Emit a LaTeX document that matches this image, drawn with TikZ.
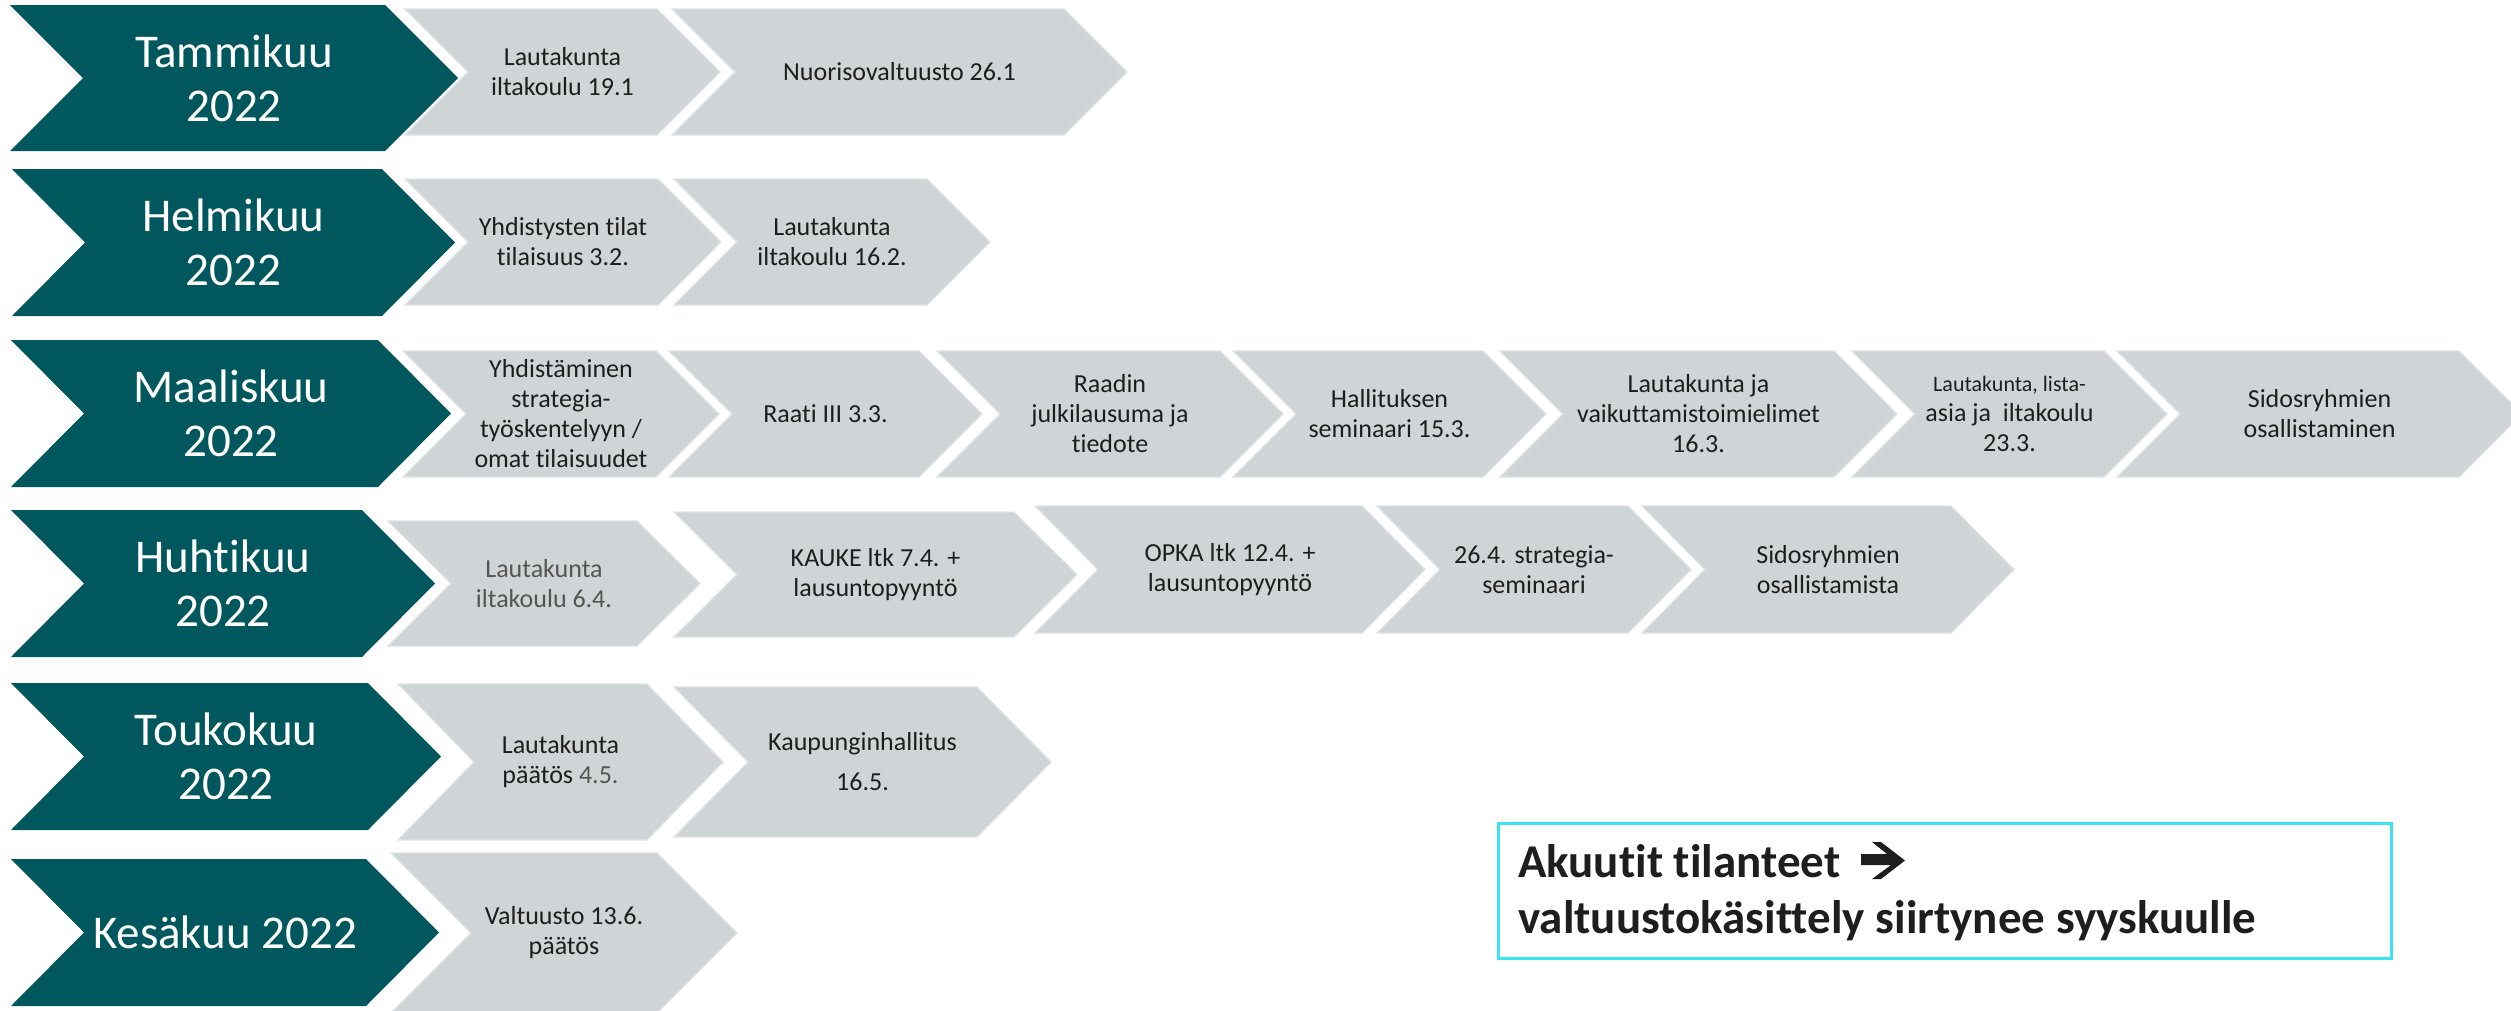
\documentclass[tikz,border=0pt]{standalone}
\usepackage{fontspec}
\setmainfont{Carlito}[Ligatures={NoCommon}]
\definecolor{teal1}{RGB}{1,87,94}
\definecolor{gray1}{RGB}{207,213,214}
\definecolor{grayedge}{RGB}{222,226,227}
\definecolor{txt}{RGB}{30,30,30}
\definecolor{txtlight}{RGB}{85,85,85}
\definecolor{boxcyan}{RGB}{60,228,240}
\tikzset{
  month/.style={fill=teal1},
  month text/.style={text=white,align=center,inner sep=0pt,font=\fontsize{47}{54}\selectfont},
  task/.style={fill=gray1,draw=grayedge,line width=1.2pt},
  task text/.style={text=txt,align=center,inner sep=0pt,font=\fontsize{26}{30}\selectfont},
  notebox/.style={draw=boxcyan,line width=3pt,fill=white,inner sep=0pt,anchor=north west},
  notetext/.style={text=txt,anchor=base west,inner sep=0pt,font=\bfseries\fontsize{47}{56}\selectfont},
  heavyarrow/.style={fill=txt}
}
% #1 name, #2 L, #3 R, #4 T, #5 B, #6 depth, #7 style, #8 text
\newcommand{\chevshape}[8]{%
  \path[#7] (#2,#4) -- ({#3-#6},#4) -- (#3,{(#4+#5)/2}) -- ({#3-#6},#5) -- (#2,#5) -- ({#2+#6},{(#4+#5)/2}) -- cycle;
  \node[#7 text] (#1) at ({(#2+#3)/2},{(#4+#5)/2}) {#8};
}
\begin{document}
\begin{tikzpicture}[x=1pt,y=-1pt]
\useasboundingbox (0,0) rectangle (2511,1010);
% Row 1
\chevshape{m1}{10}{458}{5}{151}{73}{month}{Tammikuu\\2022}
\chevshape{t11}{405}{720}{9}{135}{63}{task}{Lautakunta\\iltakoulu 19.1}
\chevshape{t12}{672}{1127}{9}{135}{63}{task}{Nuorisovaltuusto 26.1}
% Row 2
\chevshape{m2}{12}{455}{169}{316}{73}{month}{Helmikuu\\2022}
\chevshape{t21}{405}{721}{179}{305}{63}{task}{Yhdistysten tilat\\tilaisuus 3.2.}
\chevshape{t22}{674}{990}{179}{305}{63}{task}{Lautakunta\\iltakoulu 16.2.}
% Row 3
\chevshape{m3}{11}{451}{340}{487}{73}{month}{Maaliskuu\\2022}
\chevshape{t31}{403}{719}{351}{477}{63}{task}{\fontsize{26}{27}\selectfont Yhdistäminen\\strategia-\\työskentelyyn /\\omat tilaisuudet}
\chevshape{t32}{669}{982}{351}{477}{63}{task}{Raati III 3.3.}
\chevshape{t33}{937}{1283}{351}{477}{63}{task}{Raadin\\julkilausuma ja\\tiedote}
\chevshape{t34}{1233}{1546}{351}{477}{63}{task}{Hallituksen\\seminaari 15.3.}
\chevshape{t35}{1500}{1897}{351}{477}{63}{task}{Lautakunta ja\\vaikuttamistoimielimet\\16.3.}
\chevshape{t36}{1852}{2167}{351}{477}{63}{task}{\fontsize{22}{27}\selectfont Lautakunta, lista-\\asia ja\ \ iltakoulu\\23.3.}
\chevshape{t37}{2117}{2522}{351}{477}{63}{task}{Sidosryhmien\\osallistaminen}
% Row 4
\chevshape{m4}{11}{435}{510}{657}{73}{month}{Huhtikuu\\2022}
\chevshape{t41}{388}{700}{521}{646}{63}{task}{\color{txtlight}Lautakunta\\\color{txtlight}iltakoulu 6.4.}
\chevshape{t42}{674}{1077}{512}{637}{63}{task}{KAUKE ltk 7.4. +\\lausuntopyyntö}
\chevshape{t43}{1035}{1425}{506}{633}{63}{task}{OPKA ltk 12.4. +\\lausuntopyyntö}
\chevshape{t44}{1377}{1691}{506}{633}{63}{task}{26.4. strategia-\\seminaari}
\chevshape{t45}{1642}{2014}{506}{633}{63}{task}{Sidosryhmien\\osallistamista}
% Row 5
\chevshape{m5}{11}{441}{683}{830}{73}{month}{Toukokuu\\2022}
\chevshape{t51}{398}{723}{684}{840}{76}{task}{Lautakunta\\päätös {\color{txtlight}4.5.}}
\chevshape{t52}{674}{1051}{687}{837}{74}{task}{Kaupunginhallitus\\[10pt]16.5.}
% Row 6
\chevshape{m6}{11}{439}{859}{1006}{73}{month}{Kesäkuu 2022}
\chevshape{t61}{391}{737}{853}{1013}{80}{task}{Valtuusto 13.6.\\päätös}
% Note box
\node[notebox,minimum width=893pt,minimum height=135pt] (box) at (1497,822) {};
\node[notetext] (note1) at (1518,877) {Akuutit tilanteet};
\fill[heavyarrow] (1861,854) -- (1887,854) -- (1872,842) -- (1881,842) -- (1905,860.5) -- (1881,879) -- (1872,879) -- (1891,865) -- (1861,865) -- cycle;
\node[notetext] (note2) at (1518,933) {valtuustokäsittely siirtynee syyskuulle};
\end{tikzpicture}
\end{document}
